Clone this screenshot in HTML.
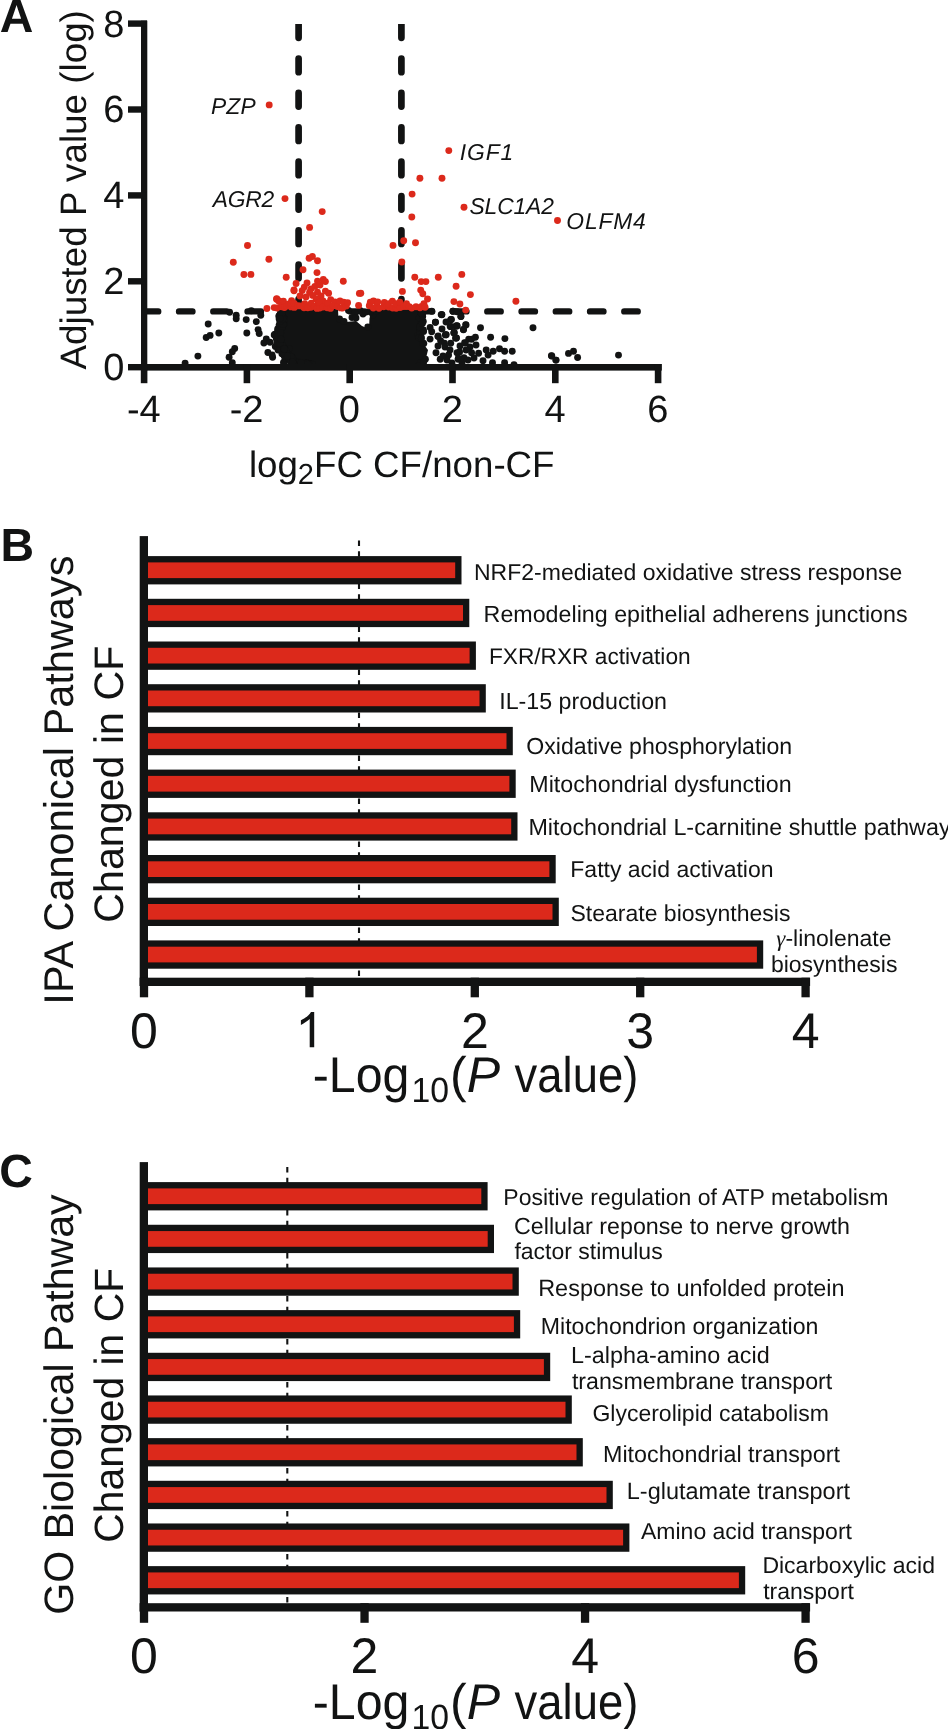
<!DOCTYPE html>
<html><head><meta charset="utf-8"><title>Figure</title>
<style>html,body{margin:0;padding:0;background:#fff;}body{width:948px;height:1729px;overflow:hidden;}svg{display:block;will-change:transform;}</style>
</head><body>
<svg width="948" height="1729" viewBox="0 0 948 1729" text-rendering="geometricPrecision"><path d="M144.8 311.4H637.7" stroke="#121313" stroke-width="6.4" stroke-linecap="round" fill="none" stroke-dasharray="13.4 20.85"/><clipPath id="cpA"><rect x="0" y="23.9" width="948" height="360"/></clipPath><path d="M298.6 24.25V367" stroke="#121313" stroke-width="6.7" stroke-linecap="round" fill="none" stroke-dasharray="13.6 20.75" clip-path="url(#cpA)"/><path d="M401.4 24.25V367" stroke="#121313" stroke-width="6.7" stroke-linecap="round" fill="none" stroke-dasharray="13.6 20.75" clip-path="url(#cpA)"/><polygon points="285,309 338,309 338.5,320 346,322 356,321 362,326 369,329 369.5,318 372,312 378,309 416,309 421,309 418,316 421,322 418,330 416,336 422,342 428,350 426,358 420,363 416,367 322,367 306,362 296,359 291,354 287,349 282,344 281,338 282,332 283,325 285,318" fill="#121313"/><g fill="#121313"><circle cx="208.2" cy="324" r="3.45"/><circle cx="206.2" cy="337.5" r="3.45"/><circle cx="210.1" cy="335.4" r="3.45"/><circle cx="218.8" cy="333" r="3.45"/><circle cx="197.9" cy="356.1" r="3.45"/><circle cx="185.1" cy="363.1" r="3.45"/><circle cx="236.2" cy="315.3" r="3.45"/><circle cx="236.2" cy="318.7" r="3.45"/><circle cx="229.6" cy="312.2" r="3.45"/><circle cx="234.7" cy="348.5" r="3.45"/><circle cx="232.3" cy="351.7" r="3.45"/><circle cx="229.1" cy="357.2" r="3.45"/><circle cx="232.3" cy="362.8" r="3.45"/><circle cx="246.2" cy="319.6" r="3.45"/><circle cx="246.8" cy="333" r="3.45"/><circle cx="251.3" cy="310.8" r="3.45"/><circle cx="256.3" cy="321.6" r="3.45"/><circle cx="260.8" cy="315.3" r="3.45"/><circle cx="258.1" cy="329.6" r="3.45"/><circle cx="259.2" cy="333.5" r="3.45"/><circle cx="266.3" cy="339" r="3.45"/><circle cx="263.9" cy="343" r="3.45"/><circle cx="267.9" cy="352.5" r="3.45"/><circle cx="272.6" cy="357.2" r="3.45"/><circle cx="275" cy="334.3" r="3.45"/><circle cx="279" cy="316.1" r="3.45"/><circle cx="283.7" cy="362.8" r="3.45"/><circle cx="279" cy="315.9" r="3.45"/><circle cx="274.2" cy="334.9" r="3.45"/><circle cx="276.3" cy="338.1" r="3.45"/><circle cx="280.5" cy="331.7" r="3.45"/><circle cx="272.1" cy="355" r="3.45"/><circle cx="283.7" cy="362.3" r="3.45"/><circle cx="270" cy="342.3" r="3.45"/><circle cx="275.3" cy="346.5" r="3.45"/><circle cx="286.9" cy="355" r="3.45"/><circle cx="289" cy="348.6" r="3.45"/><circle cx="278" cy="350" r="3.45"/><circle cx="281" cy="342" r="3.45"/><circle cx="284" cy="324" r="3.45"/><circle cx="280" cy="322" r="3.45"/><circle cx="348.5" cy="310.5" r="3.45"/><circle cx="352" cy="317.5" r="3.45"/><circle cx="360" cy="310.5" r="3.45"/><circle cx="363" cy="314" r="3.45"/><circle cx="355" cy="313" r="3.45"/><circle cx="373" cy="315" r="3.45"/><circle cx="356" cy="318" r="3.45"/><circle cx="376" cy="311.5" r="3.45"/><circle cx="370.5" cy="312" r="3.45"/><circle cx="366" cy="312" r="3.45"/><circle cx="339.6" cy="319" r="3.45"/><circle cx="367.8" cy="327" r="3.45"/><circle cx="344" cy="321.5" r="3.45"/><circle cx="441.7" cy="314.8" r="3.45"/><circle cx="451" cy="319.6" r="3.45"/><circle cx="453.2" cy="311.1" r="3.45"/><circle cx="460.9" cy="316.6" r="3.45"/><circle cx="451" cy="326.6" r="3.45"/><circle cx="456.9" cy="325.8" r="3.45"/><circle cx="465.7" cy="324.7" r="3.45"/><circle cx="463.5" cy="329.5" r="3.45"/><circle cx="454.3" cy="332.5" r="3.45"/><circle cx="456.1" cy="338" r="3.45"/><circle cx="446.2" cy="334.7" r="3.45"/><circle cx="438" cy="336.6" r="3.45"/><circle cx="440.6" cy="340.6" r="3.45"/><circle cx="435.5" cy="322.2" r="3.45"/><circle cx="423.3" cy="321.4" r="3.45"/><circle cx="464.6" cy="342.8" r="3.45"/><circle cx="468.7" cy="339.1" r="3.45"/><circle cx="431.7" cy="311.2" r="3.45"/><circle cx="441.2" cy="314.6" r="3.45"/><circle cx="450.7" cy="319.6" r="3.45"/><circle cx="452.8" cy="311.2" r="3.45"/><circle cx="457" cy="311.7" r="3.45"/><circle cx="450.2" cy="326.5" r="3.45"/><circle cx="456" cy="325.9" r="3.45"/><circle cx="435.4" cy="322.2" r="3.45"/><circle cx="430.1" cy="327.5" r="3.45"/><circle cx="431.7" cy="331.7" r="3.45"/><circle cx="438.1" cy="336" r="3.45"/><circle cx="445.4" cy="334.9" r="3.45"/><circle cx="453.9" cy="332.8" r="3.45"/><circle cx="455.5" cy="338.1" r="3.45"/><circle cx="450.7" cy="343.3" r="3.45"/><circle cx="444.4" cy="343.3" r="3.45"/><circle cx="430.1" cy="339.1" r="3.45"/><circle cx="440.2" cy="359.2" r="3.45"/><circle cx="448.6" cy="354.9" r="3.45"/><circle cx="457" cy="352.8" r="3.45"/><circle cx="458.1" cy="359.2" r="3.45"/><circle cx="436" cy="352.8" r="3.45"/><circle cx="425.4" cy="359.2" r="3.45"/><circle cx="441.9" cy="314.6" r="3.45"/><circle cx="460.9" cy="316.5" r="3.45"/><circle cx="451.4" cy="319.4" r="3.45"/><circle cx="450.8" cy="326.6" r="3.45"/><circle cx="457.1" cy="326" r="3.45"/><circle cx="466" cy="324.9" r="3.45"/><circle cx="463.4" cy="329.7" r="3.45"/><circle cx="480.5" cy="327.8" r="3.45"/><circle cx="453.9" cy="332.9" r="3.45"/><circle cx="445.7" cy="334.6" r="3.45"/><circle cx="456.5" cy="338" r="3.45"/><circle cx="475.4" cy="337.3" r="3.45"/><circle cx="471.6" cy="339.2" r="3.45"/><circle cx="465.3" cy="343" r="3.45"/><circle cx="490.6" cy="337.3" r="3.45"/><circle cx="504.9" cy="338.6" r="3.45"/><circle cx="533" cy="327.8" r="3.45"/><circle cx="486.2" cy="350" r="3.45"/><circle cx="493.2" cy="351.3" r="3.45"/><circle cx="499.5" cy="348.7" r="3.45"/><circle cx="504.6" cy="351.3" r="3.45"/><circle cx="512.2" cy="351.3" r="3.45"/><circle cx="478.6" cy="353.2" r="3.45"/><circle cx="471.6" cy="352.8" r="3.45"/><circle cx="459.6" cy="351.9" r="3.45"/><circle cx="464" cy="357.6" r="3.45"/><circle cx="458.4" cy="358.2" r="3.45"/><circle cx="488.1" cy="355.1" r="3.45"/><circle cx="483" cy="360.8" r="3.45"/><circle cx="492.5" cy="362.7" r="3.45"/><circle cx="504.6" cy="362.7" r="3.45"/><circle cx="514" cy="364.6" r="3.45"/><circle cx="551.4" cy="355.7" r="3.45"/><circle cx="555.8" cy="360.1" r="3.45"/><circle cx="551.8" cy="356" r="3.45"/><circle cx="556.1" cy="360.1" r="3.45"/><circle cx="568.5" cy="353.4" r="3.45"/><circle cx="573.5" cy="351.3" r="3.45"/><circle cx="577.6" cy="357.5" r="3.45"/><circle cx="618.5" cy="355.1" r="3.45"/><circle cx="445" cy="347" r="3.45"/><circle cx="450" cy="350" r="3.45"/><circle cx="447" cy="360" r="3.45"/><circle cx="452" cy="363" r="3.45"/><circle cx="462" cy="363" r="3.45"/><circle cx="468" cy="360" r="3.45"/><circle cx="474" cy="358" r="3.45"/><circle cx="470" cy="347" r="3.45"/><circle cx="476" cy="345" r="3.45"/><circle cx="466" cy="350" r="3.45"/><circle cx="460" cy="346" r="3.45"/><circle cx="443" cy="356" r="3.45"/><circle cx="438" cy="346" r="3.45"/><circle cx="442" cy="329" r="3.45"/><circle cx="446" cy="322" r="3.45"/><circle cx="420.5" cy="313.6" r="3.45"/><circle cx="421.1" cy="317.5" r="3.45"/><circle cx="281.8" cy="347.8" r="3.45"/><circle cx="285" cy="349.6" r="3.45"/><circle cx="279.3" cy="336.4" r="3.45"/><circle cx="284.7" cy="353.3" r="3.45"/><circle cx="276.6" cy="334" r="3.45"/><circle cx="280.1" cy="326.4" r="3.45"/><circle cx="417.6" cy="335.6" r="3.45"/><circle cx="419.8" cy="332.8" r="3.45"/><circle cx="295.4" cy="361.1" r="3.45"/><circle cx="308.5" cy="363.4" r="3.45"/><circle cx="278.7" cy="329.2" r="3.45"/><circle cx="281.9" cy="353.8" r="3.45"/><circle cx="298.1" cy="361.6" r="3.45"/><circle cx="288.4" cy="358.1" r="3.45"/><circle cx="285.9" cy="358.5" r="3.45"/><circle cx="283.5" cy="322.1" r="3.45"/><circle cx="284" cy="318.1" r="3.45"/><circle cx="286.5" cy="351.7" r="3.45"/><circle cx="288.5" cy="357.3" r="3.45"/><circle cx="312.2" cy="364.1" r="3.45"/><circle cx="282.2" cy="312.2" r="3.45"/><circle cx="421.7" cy="319.2" r="3.45"/><circle cx="291.5" cy="357" r="3.45"/><circle cx="420.8" cy="362.5" r="3.45"/><circle cx="278.6" cy="336.2" r="3.45"/><circle cx="307.1" cy="363" r="3.45"/><circle cx="423.8" cy="343.4" r="3.45"/><circle cx="291.1" cy="356.9" r="3.45"/><circle cx="420.5" cy="325.3" r="3.45"/><circle cx="419.2" cy="317.9" r="3.45"/><circle cx="280.8" cy="350" r="3.45"/><circle cx="419.5" cy="328.1" r="3.45"/><circle cx="307.5" cy="364.6" r="3.45"/><circle cx="303.5" cy="362.5" r="3.45"/><circle cx="281.2" cy="314.4" r="3.45"/><circle cx="281" cy="341.4" r="3.45"/><circle cx="422.7" cy="316.6" r="3.45"/><circle cx="282" cy="327.2" r="3.45"/><circle cx="277.7" cy="329" r="3.45"/><circle cx="278.2" cy="341.3" r="3.45"/><circle cx="279.5" cy="345" r="3.45"/><circle cx="304.7" cy="365" r="3.45"/><circle cx="281.5" cy="321" r="3.45"/><circle cx="299.9" cy="362.5" r="3.45"/><circle cx="422.6" cy="342.8" r="3.45"/><circle cx="281" cy="319.2" r="3.45"/><circle cx="295.9" cy="362.5" r="3.45"/><circle cx="277.7" cy="346.5" r="3.45"/><circle cx="284.6" cy="353.8" r="3.45"/><circle cx="277.8" cy="341.3" r="3.45"/><circle cx="291.8" cy="362.1" r="3.45"/><circle cx="280.3" cy="313.3" r="3.45"/><circle cx="279.1" cy="325.1" r="3.45"/><circle cx="280.6" cy="333.7" r="3.45"/><circle cx="288" cy="354.3" r="3.45"/><circle cx="291.1" cy="363.9" r="3.45"/><circle cx="278" cy="334" r="3.45"/><circle cx="309.4" cy="364" r="3.45"/><circle cx="284.4" cy="356.5" r="3.45"/><circle cx="280.2" cy="344.5" r="3.45"/><circle cx="281.9" cy="350.7" r="3.45"/><circle cx="281.8" cy="317.5" r="3.45"/><circle cx="278.1" cy="332.3" r="3.45"/><circle cx="421.2" cy="337.1" r="3.45"/><circle cx="294" cy="364.1" r="3.45"/><circle cx="289" cy="358.8" r="3.45"/><circle cx="283.4" cy="353.6" r="3.45"/><circle cx="278.2" cy="346.8" r="3.45"/><circle cx="289" cy="355.4" r="3.45"/><circle cx="423.6" cy="331.6" r="3.45"/><circle cx="293.7" cy="363.8" r="3.45"/><circle cx="418.9" cy="365.5" r="3.45"/><circle cx="284.3" cy="319" r="3.45"/><circle cx="290.4" cy="362.1" r="3.45"/><circle cx="423.7" cy="361.9" r="3.45"/><circle cx="420.8" cy="311.9" r="3.45"/><circle cx="276.7" cy="339.6" r="3.45"/><circle cx="280.5" cy="316.3" r="3.45"/><circle cx="278.6" cy="344" r="3.45"/><circle cx="282.7" cy="317.8" r="3.45"/><circle cx="279.1" cy="318.7" r="3.45"/><circle cx="277.8" cy="330.4" r="3.45"/><circle cx="418.7" cy="337.8" r="3.45"/><circle cx="423.4" cy="329.9" r="3.45"/><circle cx="290.7" cy="360.7" r="3.45"/><circle cx="419.8" cy="327" r="3.45"/><circle cx="306.8" cy="363.3" r="3.45"/><circle cx="280.4" cy="348.4" r="3.45"/><circle cx="293.1" cy="361.2" r="3.45"/><circle cx="282" cy="313.2" r="3.45"/><circle cx="281.8" cy="328.1" r="3.45"/><circle cx="283" cy="324.4" r="3.45"/><circle cx="284" cy="349.4" r="3.45"/><circle cx="280.1" cy="321.4" r="3.45"/><circle cx="292.6" cy="358.4" r="3.45"/><circle cx="291.1" cy="356.7" r="3.45"/><circle cx="278.2" cy="343.7" r="3.45"/><circle cx="292.7" cy="361.9" r="3.45"/><circle cx="276.9" cy="342.9" r="3.45"/><circle cx="282.7" cy="319" r="3.45"/><circle cx="422.8" cy="312.9" r="3.45"/><circle cx="282.7" cy="345.4" r="3.45"/><circle cx="422.2" cy="314.1" r="3.45"/><circle cx="422.4" cy="323.5" r="3.45"/><circle cx="280.1" cy="318.4" r="3.45"/><circle cx="421.4" cy="338.4" r="3.45"/><circle cx="421" cy="312.8" r="3.45"/><circle cx="307.8" cy="364.2" r="3.45"/><circle cx="423.8" cy="311.3" r="3.45"/><circle cx="279.8" cy="343.6" r="3.45"/><circle cx="287.4" cy="356" r="3.45"/><circle cx="284.1" cy="348.5" r="3.45"/><circle cx="284.1" cy="349" r="3.45"/><circle cx="284.4" cy="349.3" r="3.45"/><circle cx="281" cy="339.2" r="3.45"/><circle cx="301.1" cy="362.8" r="3.45"/><circle cx="280.6" cy="332.6" r="3.45"/><circle cx="421.5" cy="313.3" r="3.45"/></g><g fill="#DC291B"><circle cx="269.2" cy="104.9" r="3.45"/><circle cx="285" cy="198.6" r="3.45"/><circle cx="448.8" cy="150.6" r="3.45"/><circle cx="419.9" cy="178.3" r="3.45"/><circle cx="442" cy="178.3" r="3.45"/><circle cx="412.1" cy="194.1" r="3.45"/><circle cx="464" cy="207.3" r="3.45"/><circle cx="557.5" cy="220.5" r="3.45"/><circle cx="411.8" cy="217" r="3.45"/><circle cx="322.2" cy="211.6" r="3.45"/><circle cx="309.6" cy="227.4" r="3.45"/><circle cx="403.7" cy="240.8" r="3.45"/><circle cx="415.5" cy="242.7" r="3.45"/><circle cx="393" cy="245.4" r="3.45"/><circle cx="247.5" cy="245.5" r="3.45"/><circle cx="233.3" cy="262.2" r="3.45"/><circle cx="243.9" cy="274.5" r="3.45"/><circle cx="250.9" cy="274.4" r="3.45"/><circle cx="268.9" cy="259.3" r="3.45"/><circle cx="286.2" cy="277.3" r="3.45"/><circle cx="309.1" cy="258.2" r="3.45"/><circle cx="312.4" cy="256.5" r="3.45"/><circle cx="317.5" cy="260.8" r="3.45"/><circle cx="303" cy="269.8" r="3.45"/><circle cx="317" cy="272.6" r="3.45"/><circle cx="343.3" cy="281.3" r="3.45"/><circle cx="359.4" cy="293.4" r="3.45"/><circle cx="323.3" cy="279.5" r="3.45"/><circle cx="317.5" cy="281.1" r="3.45"/><circle cx="325.4" cy="281.6" r="3.45"/><circle cx="296.1" cy="283.5" r="3.45"/><circle cx="294" cy="289.9" r="3.45"/><circle cx="304.3" cy="287.1" r="3.45"/><circle cx="302.2" cy="290.6" r="3.45"/><circle cx="314.9" cy="286.4" r="3.45"/><circle cx="309.6" cy="292.2" r="3.45"/><circle cx="317.5" cy="292.2" r="3.45"/><circle cx="312.7" cy="295.4" r="3.45"/><circle cx="325.4" cy="291.1" r="3.45"/><circle cx="328.6" cy="293.2" r="3.45"/><circle cx="320" cy="285" r="3.45"/><circle cx="276.7" cy="298.7" r="3.45"/><circle cx="266.9" cy="308.5" r="3.45"/><circle cx="358.6" cy="305.4" r="3.45"/><circle cx="345.4" cy="303.3" r="3.45"/><circle cx="330.7" cy="299.6" r="3.45"/><circle cx="291.6" cy="300.6" r="3.45"/><circle cx="401.8" cy="262" r="3.45"/><circle cx="414.8" cy="277.3" r="3.45"/><circle cx="438.3" cy="277.3" r="3.45"/><circle cx="461.8" cy="274.4" r="3.45"/><circle cx="421.2" cy="281.6" r="3.45"/><circle cx="425.9" cy="281.6" r="3.45"/><circle cx="456.1" cy="286.3" r="3.45"/><circle cx="470.4" cy="294.6" r="3.45"/><circle cx="402.4" cy="291.4" r="3.45"/><circle cx="420.7" cy="290.1" r="3.45"/><circle cx="422.8" cy="293.8" r="3.45"/><circle cx="427.5" cy="299" r="3.45"/><circle cx="453.9" cy="301.6" r="3.45"/><circle cx="459.9" cy="304" r="3.45"/><circle cx="465.7" cy="310.1" r="3.45"/><circle cx="515.9" cy="301.3" r="3.45"/><circle cx="360.8" cy="293.2" r="3.45"/><circle cx="276.6" cy="299.2" r="3.45"/><circle cx="294" cy="290.8" r="3.45"/><circle cx="307" cy="283" r="3.45"/><circle cx="311" cy="289" r="3.45"/><circle cx="321" cy="296" r="3.45"/><circle cx="300" cy="296" r="3.45"/><circle cx="306" cy="297" r="3.45"/><circle cx="316" cy="299" r="3.45"/><circle cx="323" cy="301" r="3.45"/><circle cx="335" cy="302" r="3.45"/><circle cx="274.2" cy="307.6" r="3.45"/><circle cx="277" cy="308" r="3.45"/><circle cx="278.6" cy="300.8" r="3.45"/><circle cx="281.5" cy="306.7" r="3.45"/><circle cx="279.4" cy="301.6" r="3.45"/><circle cx="284.4" cy="307.6" r="3.45"/><circle cx="283.4" cy="301.2" r="3.45"/><circle cx="286.6" cy="306.1" r="3.45"/><circle cx="288.6" cy="304" r="3.45"/><circle cx="291.1" cy="306.9" r="3.45"/><circle cx="291.3" cy="303.7" r="3.45"/><circle cx="294.3" cy="307.4" r="3.45"/><circle cx="294.2" cy="303.5" r="3.45"/><circle cx="297.7" cy="305.7" r="3.45"/><circle cx="300.1" cy="305.9" r="3.45"/><circle cx="304" cy="307.8" r="3.45"/><circle cx="304.7" cy="303.8" r="3.45"/><circle cx="307.8" cy="307.8" r="3.45"/><circle cx="310.9" cy="307.3" r="3.45"/><circle cx="311.3" cy="303.3" r="3.45"/><circle cx="314.3" cy="306.4" r="3.45"/><circle cx="317" cy="308.4" r="3.45"/><circle cx="318.3" cy="303.3" r="3.45"/><circle cx="319.7" cy="308.1" r="3.45"/><circle cx="319.3" cy="302.3" r="3.45"/><circle cx="323" cy="307" r="3.45"/><circle cx="327.2" cy="307.7" r="3.45"/><circle cx="327.7" cy="303.3" r="3.45"/><circle cx="330.5" cy="308.4" r="3.45"/><circle cx="333.2" cy="305.7" r="3.45"/><circle cx="337.4" cy="306.5" r="3.45"/><circle cx="340.7" cy="307.9" r="3.45"/><circle cx="340" cy="300.9" r="3.45"/><circle cx="342.5" cy="308" r="3.45"/><circle cx="343.6" cy="302.3" r="3.45"/><circle cx="346.3" cy="306.1" r="3.45"/><circle cx="347.6" cy="302.8" r="3.45"/><circle cx="369.3" cy="305.7" r="3.45"/><circle cx="370.3" cy="302.2" r="3.45"/><circle cx="373.3" cy="308" r="3.45"/><circle cx="373.5" cy="300.9" r="3.45"/><circle cx="376.9" cy="306" r="3.45"/><circle cx="377.7" cy="302" r="3.45"/><circle cx="379" cy="308.2" r="3.45"/><circle cx="383.7" cy="306.7" r="3.45"/><circle cx="384.3" cy="302.4" r="3.45"/><circle cx="387.2" cy="306" r="3.45"/><circle cx="388.8" cy="307.1" r="3.45"/><circle cx="388.5" cy="303.8" r="3.45"/><circle cx="392.7" cy="308" r="3.45"/><circle cx="392.4" cy="301.1" r="3.45"/><circle cx="396.2" cy="308.2" r="3.45"/><circle cx="395.7" cy="303.8" r="3.45"/><circle cx="400.2" cy="307.5" r="3.45"/><circle cx="399.8" cy="302.2" r="3.45"/><circle cx="403.6" cy="306.6" r="3.45"/><circle cx="406.3" cy="306.6" r="3.45"/><circle cx="406.5" cy="303.7" r="3.45"/><circle cx="409.3" cy="306.6" r="3.45"/><circle cx="411.7" cy="308.1" r="3.45"/><circle cx="416" cy="306.8" r="3.45"/><circle cx="420" cy="307.7" r="3.45"/><circle cx="421.6" cy="306.4" r="3.45"/><circle cx="423.9" cy="303.7" r="3.45"/><circle cx="425.1" cy="307.3" r="3.45"/></g><rect x="141" y="20.7" width="6.3" height="349.9" fill="#121313"/><rect x="128" y="364.00" width="19" height="6.4" fill="#121313"/><rect x="128" y="278.10" width="19" height="6.4" fill="#121313"/><rect x="128" y="192.20" width="19" height="6.4" fill="#121313"/><rect x="128" y="106.30" width="19" height="6.4" fill="#121313"/><rect x="128" y="20.40" width="19" height="6.4" fill="#121313"/><rect x="141" y="364" width="520.8" height="6.6" fill="#121313"/><rect x="140.80" y="364" width="6.6" height="19.2" fill="#121313"/><rect x="243.60" y="364" width="6.6" height="19.2" fill="#121313"/><rect x="346.40" y="364" width="6.6" height="19.2" fill="#121313"/><rect x="449.20" y="364" width="6.6" height="19.2" fill="#121313"/><rect x="552.00" y="364" width="6.6" height="19.2" fill="#121313"/><rect x="654.80" y="364" width="6.6" height="19.2" fill="#121313"/><g font-family='"Liberation Sans", sans-serif' font-size="38" fill="#121313" text-anchor="end"><text x="124.3" y="380.1">0</text><text x="124.3" y="294.2">2</text><text x="124.3" y="208.3">4</text><text x="124.3" y="122.4">6</text><text x="124.3" y="36.5">8</text></g><g font-family='"Liberation Sans", sans-serif' font-size="38" fill="#121313" text-anchor="middle"><text x="143.8" y="422">-4</text><text x="246.6" y="422">-2</text><text x="349.4" y="422">0</text><text x="452.2" y="422">2</text><text x="555.0" y="422">4</text><text x="657.8" y="422">6</text></g><g font-family='"Liberation Sans", sans-serif' font-size="22.8" font-style="italic" fill="#121313"><text x="211.0" y="113.8" letter-spacing="0.15">PZP</text><text x="212.8" y="206.6" letter-spacing="-0.25">AGR2</text><text x="459.8" y="159.7" letter-spacing="0.90">IGF1</text><text x="469.5" y="213.9" letter-spacing="-0.12">SLC1A2</text><text x="566.3" y="228.5" letter-spacing="0.85">OLFM4</text></g><text x="-0.3" y="32.4" font-family='"Liberation Sans", sans-serif' font-size="46.5" font-weight="bold" fill="#121313">A</text><text transform="translate(86,189.8) rotate(-90)" text-anchor="middle" font-family='"Liberation Sans", sans-serif' font-size="36.8" fill="#121313">Adjusted P value (log)</text><text x="248.9" y="476.9" font-family='"Liberation Sans", sans-serif' font-size="36.7" fill="#121313">log<tspan font-size="29" dy="7.4">2</tspan><tspan dy="-7.4">FC CF/non-CF</tspan></text><text x="0.6" y="561.1" font-family='"Liberation Sans", sans-serif' font-size="46.5" font-weight="bold" fill="#121313">B</text><path d="M359.0 540.5V977.9" stroke="#121313" stroke-width="2.1" stroke-dasharray="5.4 5.35" fill="none"/><rect x="144" y="556.10" width="317.50" height="28.3" fill="#121313"/><rect x="148" y="562.40" width="307.20" height="15.7" fill="#DC291B"/><rect x="144" y="598.80" width="325.30" height="28.3" fill="#121313"/><rect x="148" y="605.10" width="315.00" height="15.7" fill="#DC291B"/><rect x="144" y="641.50" width="331.90" height="28.3" fill="#121313"/><rect x="148" y="647.80" width="321.60" height="15.7" fill="#DC291B"/><rect x="144" y="684.20" width="341.80" height="28.3" fill="#121313"/><rect x="148" y="690.50" width="331.50" height="15.7" fill="#DC291B"/><rect x="144" y="726.90" width="368.80" height="28.3" fill="#121313"/><rect x="148" y="733.20" width="358.50" height="15.7" fill="#DC291B"/><rect x="144" y="769.60" width="371.70" height="28.3" fill="#121313"/><rect x="148" y="775.90" width="361.40" height="15.7" fill="#DC291B"/><rect x="144" y="812.30" width="373.50" height="28.3" fill="#121313"/><rect x="148" y="818.60" width="363.20" height="15.7" fill="#DC291B"/><rect x="144" y="855.00" width="411.70" height="28.3" fill="#121313"/><rect x="148" y="861.30" width="401.40" height="15.7" fill="#DC291B"/><rect x="144" y="897.70" width="414.80" height="28.3" fill="#121313"/><rect x="148" y="904.00" width="404.50" height="15.7" fill="#DC291B"/><rect x="144" y="940.40" width="619.20" height="28.3" fill="#121313"/><rect x="148" y="946.70" width="608.90" height="15.7" fill="#DC291B"/><rect x="139.7" y="536.1" width="8.3" height="449.9" fill="#121313"/><rect x="139.7" y="977.70" width="670.4" height="8.3" fill="#121313"/><rect x="139.85" y="977.70" width="8.3" height="19.6" fill="#121313"/><rect x="305.25" y="977.70" width="8.3" height="19.6" fill="#121313"/><rect x="470.65" y="977.70" width="8.3" height="19.6" fill="#121313"/><rect x="636.05" y="977.70" width="8.3" height="19.6" fill="#121313"/><rect x="801.45" y="977.70" width="8.3" height="19.6" fill="#121313"/><g font-family='"Liberation Sans", sans-serif' font-size="50" fill="#121313" text-anchor="middle"><text x="144.0" y="1047.5">0</text><text x="474.8" y="1047.5">2</text><text x="640.2" y="1047.5">3</text><text x="805.6" y="1047.5">4</text></g><path d="M314.2 1047.2L309.7 1047.2L309.7 1019.0C306.9 1021.6 303.9 1023.4 300.9 1025.0L300.9 1020.3C305.4 1018.2 308.9 1015.4 311.0 1012.0L314.2 1012.0Z" fill="#121313"/><g font-family='"Liberation Sans", sans-serif' font-size="50" fill="#121313"><text transform="translate(312.7,1091.6) scale(0.966,1)">-Log</text><text transform="translate(411.4,1101.6) scale(0.964,1)" font-size="35">10</text><text transform="translate(450.1,1091.6)">(<tspan font-style="italic">P</tspan></text><text transform="translate(514.6,1091.6) scale(0.908,1)">value)</text></g><text transform="translate(72.7,780.1) rotate(-90)" text-anchor="middle" font-family='"Liberation Sans", sans-serif' font-size="41.5" fill="#121313">IPA Canonical Pathways</text><text transform="translate(122.8,784.2) rotate(-90)" text-anchor="middle" font-family='"Liberation Sans", sans-serif' font-size="41.2" fill="#121313">Changed in CF</text><g font-family='"Liberation Sans", sans-serif' font-size="23" fill="#121313"><text x="474.0" y="580.1">NRF2-mediated oxidative stress response</text><text x="483.6" y="621.9"><tspan font-size="23.25">Remodeling epithelial adherens junctions</tspan></text><text x="488.9" y="664.0"><tspan font-size="22.7">FXR/RXR activation</tspan></text><text x="499.2" y="708.7"><tspan font-size="23.23">IL-15 production</tspan></text><text x="526.3" y="754.3"><tspan font-size="23.11">Oxidative phosphorylation</tspan></text><text x="529.3" y="791.9"><tspan font-size="23.25">Mitochondrial dysfunction</tspan></text><text x="528.4" y="835.2"><tspan font-size="23.3">Mitochondrial L-carnitine shuttle pathway</tspan></text><text x="570.3" y="876.9">Fatty acid activation</text><text x="570.5" y="921.2">Stearate biosynthesis</text><text x="776.3" y="946.2"><tspan font-family="Liberation Serif" font-style="italic">γ</tspan>-linolenate</text><text x="770.9" y="972.2">biosynthesis</text></g><text x="-0.8" y="1186.6" font-family='"Liberation Sans", sans-serif' font-size="46.5" font-weight="bold" fill="#121313">C</text><path d="M287.3 1167.0V1603.3" stroke="#121313" stroke-width="2.1" stroke-dasharray="5.4 5.35" fill="none"/><rect x="144" y="1182.10" width="343.60" height="28.3" fill="#121313"/><rect x="148" y="1188.40" width="333.30" height="15.7" fill="#DC291B"/><rect x="144" y="1224.77" width="350.00" height="28.3" fill="#121313"/><rect x="148" y="1231.07" width="339.70" height="15.7" fill="#DC291B"/><rect x="144" y="1267.44" width="374.80" height="28.3" fill="#121313"/><rect x="148" y="1273.74" width="364.50" height="15.7" fill="#DC291B"/><rect x="144" y="1310.11" width="376.20" height="28.3" fill="#121313"/><rect x="148" y="1316.41" width="365.90" height="15.7" fill="#DC291B"/><rect x="144" y="1352.78" width="406.20" height="28.3" fill="#121313"/><rect x="148" y="1359.08" width="395.90" height="15.7" fill="#DC291B"/><rect x="144" y="1395.45" width="427.80" height="28.3" fill="#121313"/><rect x="148" y="1401.75" width="417.50" height="15.7" fill="#DC291B"/><rect x="144" y="1438.12" width="438.80" height="28.3" fill="#121313"/><rect x="148" y="1444.42" width="428.50" height="15.7" fill="#DC291B"/><rect x="144" y="1480.79" width="468.80" height="28.3" fill="#121313"/><rect x="148" y="1487.09" width="458.50" height="15.7" fill="#DC291B"/><rect x="144" y="1523.46" width="485.40" height="28.3" fill="#121313"/><rect x="148" y="1529.76" width="475.10" height="15.7" fill="#DC291B"/><rect x="144" y="1566.13" width="601.20" height="28.3" fill="#121313"/><rect x="148" y="1572.43" width="590.90" height="15.7" fill="#DC291B"/><rect x="139.7" y="1162.1" width="8.3" height="449.4" fill="#121313"/><rect x="139.7" y="1603.20" width="670.4" height="8.3" fill="#121313"/><rect x="139.85" y="1603.20" width="8.3" height="19.6" fill="#121313"/><rect x="360.38" y="1603.20" width="8.3" height="19.6" fill="#121313"/><rect x="580.91" y="1603.20" width="8.3" height="19.6" fill="#121313"/><rect x="801.44" y="1603.20" width="8.3" height="19.6" fill="#121313"/><g font-family='"Liberation Sans", sans-serif' font-size="50" fill="#121313" text-anchor="middle"><text x="144.0" y="1672.8">0</text><text x="364.5" y="1672.8">2</text><text x="585.1" y="1672.8">4</text><text x="805.6" y="1672.8">6</text></g><g font-family='"Liberation Sans", sans-serif' font-size="50" fill="#121313"><text transform="translate(312.7,1718.9) scale(0.966,1)">-Log</text><text transform="translate(411.4,1728.9) scale(0.964,1)" font-size="35">10</text><text transform="translate(450.1,1718.9)">(<tspan font-style="italic">P</tspan></text><text transform="translate(514.6,1718.9) scale(0.908,1)">value)</text></g><text transform="translate(72.7,1404.5) rotate(-90)" text-anchor="middle" font-family='"Liberation Sans", sans-serif' font-size="41.1" fill="#121313">GO Biological Pathway</text><text transform="translate(122.8,1405.3) rotate(-90)" text-anchor="middle" font-family='"Liberation Sans", sans-serif' font-size="40.9" fill="#121313">Changed in CF</text><g font-family='"Liberation Sans", sans-serif' font-size="23" fill="#121313"><text x="503.3" y="1205.1">Positive regulation of ATP metabolism</text><text x="514.0" y="1234.2"><tspan font-size="23.26">Cellular reponse to nerve growth</tspan></text><text x="514.4" y="1259.4">factor stimulus</text><text x="538.2" y="1295.6"><tspan font-size="23.46">Response to unfolded protein</tspan></text><text x="540.8" y="1334.3"><tspan font-size="23.14">Mitochondrion organization</tspan></text><text x="571.0" y="1362.9"><tspan font-size="23.37">L-alpha-amino acid</tspan></text><text x="571.9" y="1388.5"><tspan font-size="23.19">transmembrane transport</tspan></text><text x="592.4" y="1420.6">Glycerolipid catabolism</text><text x="603.0" y="1461.5"><tspan font-size="23.30">Mitochondrial transport</tspan></text><text x="626.8" y="1498.6"><tspan font-size="23.49">L-glutamate transport</tspan></text><text x="641.0" y="1538.9">Amino acid transport</text><text x="762.4" y="1572.9">Dicarboxylic acid</text><text x="763.2" y="1598.8">transport</text></g></svg>
</body></html>
